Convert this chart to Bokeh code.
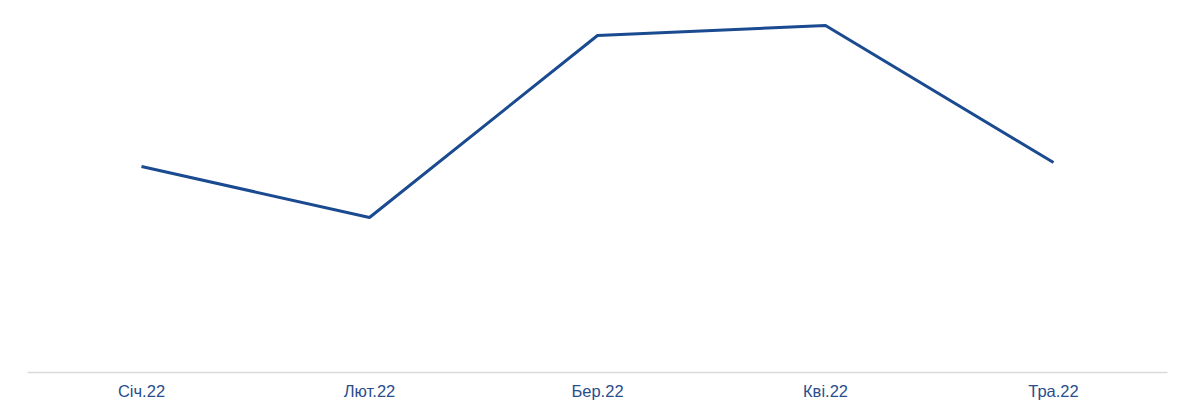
from bokeh.plotting import figure
from bokeh.models import Range1d, FactorRange
from bokeh.embed import file_html
from bokeh.resources import INLINE

months = ["Січ.22", "Лют.22", "Бер.22", "Кві.22", "Тра.22"]
values = [2.06, 1.55, 3.37, 3.47, 2.10]

p = figure(width=1176, height=408, output_backend="svg", toolbar_location=None,
           x_range=FactorRange(*months, range_padding=0), y_range=Range1d(0, 3.64),
           min_border_left=27, min_border_right=9, min_border_top=8, min_border_bottom=36)
p.line(months, values, line_color="#1a4a8f", line_width=3)

p.outline_line_color = None
p.xgrid.visible = False
p.ygrid.visible = False
p.yaxis.visible = False
p.xaxis.axis_line_color = "#d9d9d9"
p.xaxis.axis_line_width = 1.5
p.xaxis.major_tick_line_color = None
p.xaxis.minor_tick_line_color = None
p.xaxis.major_label_text_color = "#2a4d8c"
p.xaxis.major_label_text_font = "Liberation Sans"
p.xaxis.major_label_text_font_size = "16.5px"
p.xaxis.major_label_standoff = 3

open("out.html", "w").write(file_html(p, INLINE))
